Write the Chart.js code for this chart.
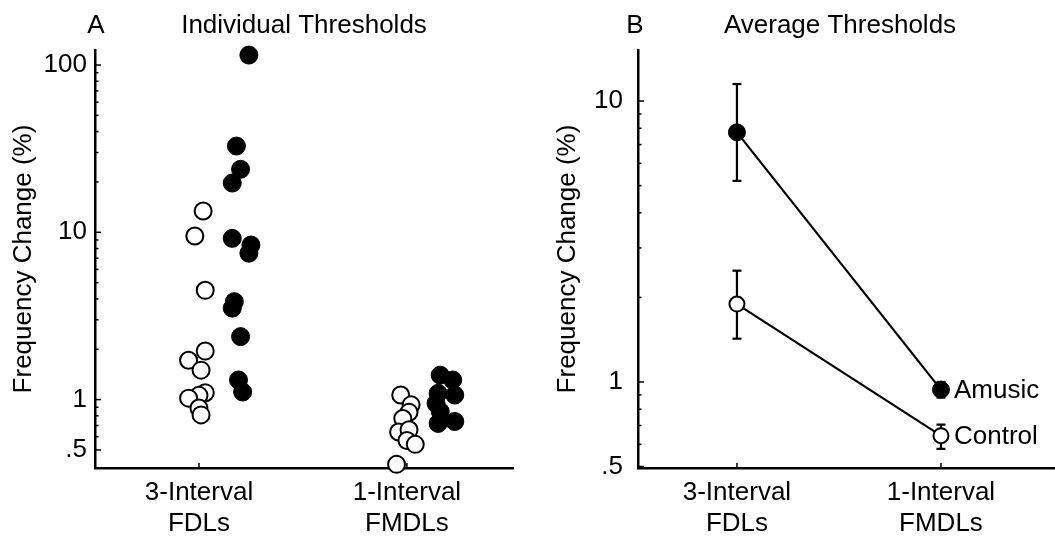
<!DOCTYPE html>
<html><head><meta charset="utf-8">
<script src="https://cdn.jsdelivr.net/npm/chart.js@4.4.0/dist/chart.umd.min.js"></script>
<style>
html,body{margin:0;padding:0;background:#fff;}
#wrap{position:relative;width:1055px;height:536px;overflow:hidden;}
#ca{position:absolute;left:0;top:0;}
#cb{position:absolute;left:520px;top:0;}
</style></head><body>
<div id="wrap"><canvas id="ca" width="520" height="536"></canvas><canvas id="cb" width="535" height="536"></canvas></div>
<script>
// ---------- data ----------
const categories = [["3-Interval", "FDLs"], ["1-Interval", "FMDLs"]];
const panelTitles = ["Individual Thresholds", "Average Thresholds"];
const panelLetters = ["A", "B"];
const yAxisTitle = "Frequency Change (%)";
const groupNames = ["Control", "Amusic"];
const yTicksA = [0.5, 1, 10, 100];
const yTicksB = [0.5, 1, 10];
const yMinorA = [0.6, 0.7, 0.8, 0.9, 2, 3, 4, 5, 6, 7, 8, 9, 20, 30, 40, 50, 60, 70, 80, 90];
const yMinorB = [0.6, 0.7, 0.8, 0.9, 2, 3, 4, 5, 6, 7, 8, 9];

// Panel A: individual thresholds (%) and horizontal jitter (category units)
const controlFDL      = [13.4, 9.5, 4.5, 1.95, 1.72, 1.50, 1.10, 1.06, 1.02, 0.89, 0.81];
const controlFDLJit   = [0.02, -0.02, 0.03, 0.03, -0.05, 0.01, 0.03, 0.00, -0.05, 0.00, 0.01];
const amusicFDL       = [114.7, 32.8, 23.8, 19.7, 9.2, 8.4, 7.5, 3.85, 3.52, 2.38, 1.31, 1.11];
const amusicFDLJit    = [0.24, 0.18, 0.20, 0.16, 0.16, 0.25, 0.24, 0.17, 0.16, 0.20, 0.19, 0.21];
const controlFMDL     = [1.065, 0.93, 0.84, 0.77, 0.64, 0.66, 0.57, 0.54, 0.41];
const controlFMDLJit  = [-0.03, 0.02, 0.01, -0.02, -0.04, 0.01, 0.00, 0.04, -0.05];
const amusicFMDL      = [1.40, 1.31, 1.09, 1.065, 0.95, 0.85, 0.72, 0.74];
const amusicFMDLJit   = [0.16, 0.22, 0.15, 0.23, 0.14, 0.16, 0.15, 0.23];

// Panel B: average thresholds (%) with error bar ends
const amusicMean   = [7.74, 0.939];
const amusicHi     = [11.5, 1.00];
const amusicLo     = [5.2, 0.88];
const controlMean  = [1.894, 0.644];
const controlHi    = [2.49, 0.705];
const controlLo    = [1.426, 0.578];

// ---------- helpers ----------
const FONT = '"Liberation Sans", Arial, Helvetica, sans-serif';
const FS = 26;
function pts(vals, jit, cat) { return vals.map((v, i) => ({ x: cat + jit[i], y: v })); }
function fmt(v) { return v === 0.5 ? '.5' : String(v); }
function seg(ctx, x1, y1, x2, y2) { ctx.beginPath(); ctx.moveTo(x1, y1); ctx.lineTo(x2, y2); ctx.stroke(); }

const decor = {
  id: 'decor',
  afterDraw(chart, args, o) {
    const ctx = chart.ctx, xs = chart.scales.x, ys = chart.scales.y;
    ctx.save();
    ctx.strokeStyle = '#000';
    ctx.lineWidth = 1.5;
    o.minor.forEach(v => { const py = ys.getPixelForValue(v); if (py >= ys.top && py <= ys.bottom) seg(ctx, xs.left, py, xs.left + 3.5, py); });
    o.major.forEach(v => { const py = ys.getPixelForValue(v); if (py >= ys.top - 1 && py <= ys.bottom + 1) seg(ctx, xs.left, py, xs.left + 6, py); });
    [1, 2].forEach(c => { const px = xs.getPixelForValue(c); seg(ctx, px, ys.bottom, px, ys.bottom - 5); });
    ctx.fillStyle = '#000';
    ctx.font = FS + 'px ' + FONT;
    ctx.textAlign = 'center';
    ctx.textBaseline = 'middle';
    ctx.fillText(o.title, o.titleX, 26);
    ctx.fillText(o.letter, o.letterX, 26);
    ctx.translate(o.yTitleX, (ys.top + ys.bottom) / 2);
    ctx.rotate(-Math.PI / 2);
    ctx.fillText(yAxisTitle, 0, 0);
    ctx.restore();
  }
};

const errorBars = {
  id: 'errorBars',
  beforeDatasetsDraw(chart, args, o) {
    const ctx = chart.ctx, xs = chart.scales.x, ys = chart.scales.y;
    ctx.save();
    ctx.strokeStyle = '#000';
    ctx.lineWidth = 2.2;
    o.sets.forEach(s => {
      s.hi.forEach((h, i) => {
        const px = xs.getPixelForValue(i + 1);
        const pt = ys.getPixelForValue(h), pb = ys.getPixelForValue(s.lo[i]);
        seg(ctx, px, pt, px, pb);
        seg(ctx, px - 4.5, pt, px + 4.5, pt);
        seg(ctx, px - 4.5, pb, px + 4.5, pb);
      });
    });
    ctx.restore();
  },
  afterDatasetsDraw(chart) {
    const ctx = chart.ctx;
    ctx.save();
    ctx.fillStyle = '#000';
    ctx.font = FS + 'px ' + FONT;
    ctx.textAlign = 'left';
    ctx.textBaseline = 'middle';
    chart.data.datasets.forEach((ds, i) => {
      const el = chart.getDatasetMeta(i).data[ds.data.length - 1];
      ctx.fillText(ds.label, el.x + 13, el.y + 1);
    });
    ctx.restore();
  }
};

function xScale(min, max, pad, h) {
  return {
    type: 'linear', min: min, max: max,
    grid: { display: false, drawTicks: false },
    border: { display: true, color: '#000', width: 2.5 },
    ticks: { color: '#000', font: { family: FONT, size: FS, lineHeight: 1.2 }, padding: pad, autoSkip: false, maxRotation: 0,
             callback: v => categories[Math.round(v) - 1] },
    afterBuildTicks: s => { s.ticks = [{ value: 1 }, { value: 2 }]; },
    afterFit: s => { s.height = h; }
  };
}
function yScale(min, max, ticks, pad, w) {
  return {
    type: 'logarithmic', min: min, max: max,
    grid: { display: false, drawTicks: false },
    border: { display: true, color: '#000', width: 2.5 },
    ticks: { color: '#000', font: { family: FONT, size: FS }, padding: pad, callback: v => fmt(v) },
    afterBuildTicks: s => { s.ticks = ticks.map(v => ({ value: v })); },
    afterFit: s => { s.width = w; }
  };
}

Chart.defaults.animation = false;

new Chart(document.getElementById('ca'), {
  type: 'scatter',
  data: {
    datasets: [
      { label: groupNames[0], data: pts(controlFDL, controlFDLJit, 1).concat(pts(controlFMDL, controlFMDLJit, 2)),
        pointRadius: 8.5, pointBorderWidth: 2, pointBackgroundColor: '#fff', pointBorderColor: '#000', clip: false },
      { label: groupNames[1], data: pts(amusicFDL, amusicFDLJit, 1).concat(pts(amusicFMDL, amusicFMDLJit, 2)),
        pointRadius: 9, pointBorderWidth: 1, pointBackgroundColor: '#000', pointBorderColor: '#000', clip: false }
    ]
  },
  options: {
    responsive: false, devicePixelRatio: 1,
    layout: { autoPadding: false, padding: { top: 50, right: 7, left: 0, bottom: 0 } },
    plugins: { legend: { display: false }, tooltip: { enabled: false },
      decor: { minor: yMinorA, major: yTicksA, title: panelTitles[0], titleX: 304, letter: panelLetters[0], letterX: 96, yTitleX: 24 } },
    scales: { x: xScale(0.5, 2.51, 9, 68), y: yScale(0.39, 123, yTicksA, 8, 95) }
  },
  plugins: [decor]
});

new Chart(document.getElementById('cb'), {
  type: 'line',
  data: {
    datasets: [
      { label: groupNames[1], data: amusicMean.map((v, i) => ({ x: i + 1, y: v })), borderColor: '#000', borderWidth: 2.2,
        pointRadius: 8.5, pointBorderWidth: 1, pointBackgroundColor: '#000', pointBorderColor: '#000', clip: false },
      { label: groupNames[0], data: controlMean.map((v, i) => ({ x: i + 1, y: v })), borderColor: '#000', borderWidth: 2.2,
        pointRadius: 7.5, pointBorderWidth: 2, pointBackgroundColor: '#fff', pointBorderColor: '#000', clip: false }
    ]
  },
  options: {
    responsive: false, devicePixelRatio: 1,
    layout: { autoPadding: false, padding: { top: 50, right: 0, left: 0, bottom: 0 } },
    plugins: { legend: { display: false }, tooltip: { enabled: false },
      decor: { minor: yMinorB, major: yTicksB, title: panelTitles[1], titleX: 320, letter: panelLetters[1], letterX: 115, yTitleX: 48 },
      errorBars: { sets: [ { hi: amusicHi, lo: amusicLo }, { hi: controlHi, lo: controlLo } ] } },
    scales: { x: xScale(0.515, 2.559, 9, 68), y: yScale(0.494, 15.2, yTicksB, 15, 118) }
  },
  plugins: [decor, errorBars]
});
</script>
</body></html>
